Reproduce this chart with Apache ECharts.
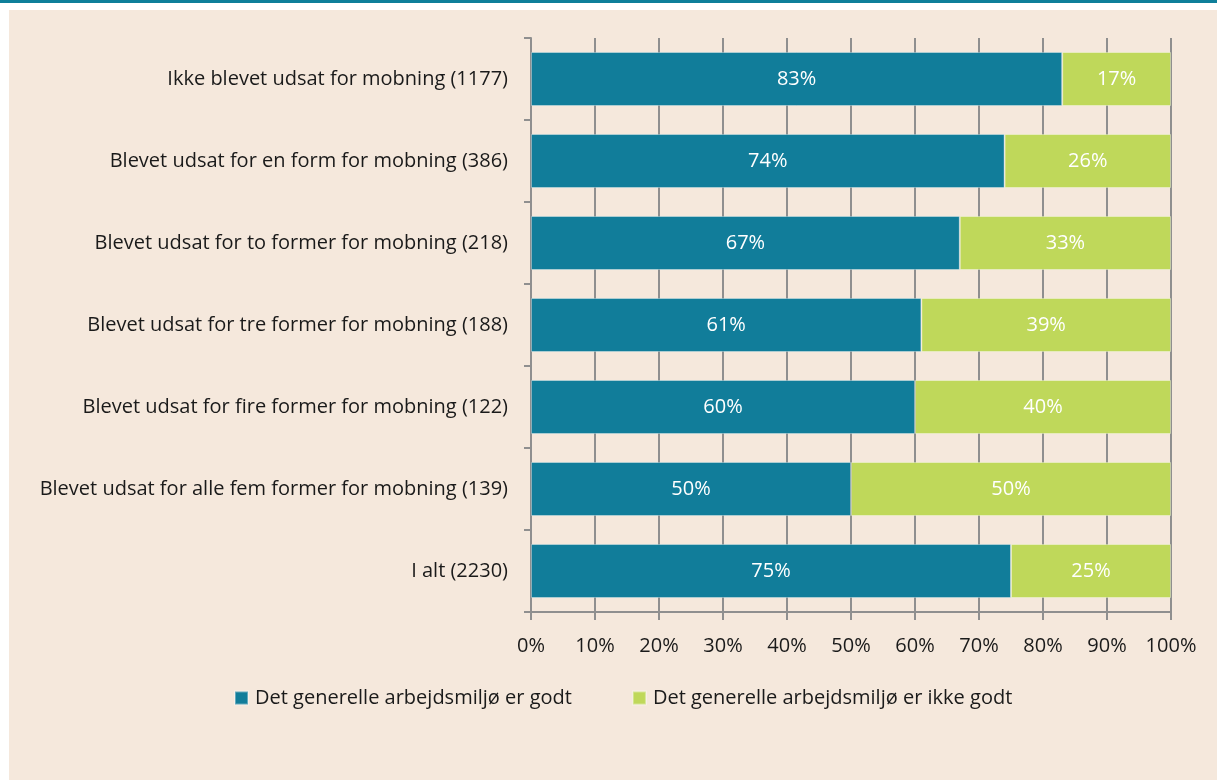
<!DOCTYPE html>
<html>
<head>
    <meta charset="utf-8">
    <title>ECharts</title>
    <script src="https://cdn.jsdelivr.net/npm/echarts@6/dist/echarts.min.js"></script>
    <style>
        html, body { margin: 0; padding: 0; background: #fff; }
        #topline { position: absolute; left: 0; top: 0; width: 1217px; height: 3px; background: #0f7f9a; }
        #main { position: absolute; left: 9px; top: 10px; width: 1208px; height: 770px; }
    </style>
</head>
<body>
<div id="topline"></div>
<div id="main"></div>
<script type="text/javascript">
    // kategorier (fra toppen)
    var categories = [
        'Ikke blevet udsat for mobning (1177)',
        'Blevet udsat for en form for mobning (386)',
        'Blevet udsat for to former for mobning (218)',
        'Blevet udsat for tre former for mobning (188)',
        'Blevet udsat for fire former for mobning (122)',
        'Blevet udsat for alle fem former for mobning (139)',
        'I alt (2230)'
    ];
    var godt = [83, 74, 67, 61, 60, 50, 75];
    var ikkeGodt = [17, 26, 33, 39, 40, 50, 25];
    var seriesNames = ['Det generelle arbejdsmiljø er godt', 'Det generelle arbejdsmiljø er ikke godt'];

    var font = '"Open Sans", "Noto Sans", sans-serif';
    var axisGrey = '#8f8f8f';

    var myChart = echarts.init(document.getElementById('main'));
    myChart.setOption({
        backgroundColor: '#f5e8dc',
        textStyle: { fontFamily: font },
        grid: { left: 522, right: 46, top: 28, bottom: 168 },
        legend: {
            top: 673,
            left: 220,
            itemWidth: 13,
            itemHeight: 13,
            itemGap: 60,
            icon: 'rect',
            textStyle: { fontSize: 20, color: '#1a1a1a', fontFamily: font, padding: [0, 0, 0, 2] },
            data: seriesNames
        },
        xAxis: {
            type: 'value',
            min: 0,
            max: 100,
            interval: 10,
            axisLine: { show: true, lineStyle: { color: axisGrey, width: 2 } },
            axisTick: { show: true, length: 8, lineStyle: { color: axisGrey, width: 2 } },
            splitLine: { show: true, lineStyle: { color: axisGrey, width: 2 } },
            axisLabel: { formatter: '{value}%', fontSize: 20, color: '#1a1a1a', margin: 24 }
        },
        yAxis: {
            type: 'category',
            inverse: true,
            data: categories,
            axisLine: { show: true, lineStyle: { color: axisGrey, width: 2 } },
            axisTick: { show: true, length: 7, lineStyle: { color: axisGrey, width: 2 } },
            axisLabel: { fontSize: 20, color: '#1a1a1a', margin: 23 }
        },
        series: [
            {
                name: seriesNames[0],
                type: 'bar',
                stack: 'total',
                data: godt,
                barWidth: 54,
                itemStyle: { color: '#117d9a', borderColor: 'rgba(255,255,255,0.35)', borderWidth: 1 },
                label: { show: true, formatter: '{c}%', color: '#fff', fontSize: 20 }
            },
            {
                name: seriesNames[1],
                type: 'bar',
                stack: 'total',
                data: ikkeGodt,
                barWidth: 54,
                itemStyle: { color: '#bfd85a', borderColor: 'rgba(255,255,255,0.35)', borderWidth: 1 },
                label: { show: true, formatter: '{c}%', color: '#fff', fontSize: 20 }
            }
        ]
    });
</script>
</body>
</html>
